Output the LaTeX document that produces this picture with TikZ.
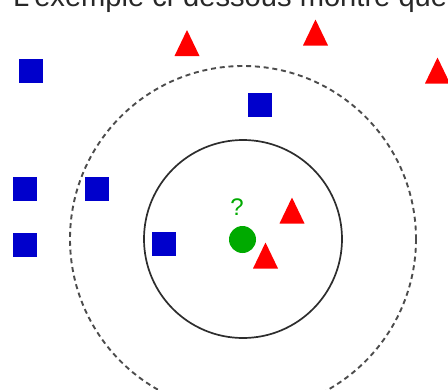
\documentclass[tikz,border=0pt]{standalone}
\usepackage{fontspec}
\setmainfont{Liberation Sans}
\definecolor{sqblue}{RGB}{0,0,204}
\definecolor{trired}{RGB}{255,0,0}
\definecolor{dotgreen}{RGB}{0,170,0}
\definecolor{textgrey}{RGB}{40,40,40}
\definecolor{ringgrey}{RGB}{45,45,45}
\tikzset{
  sq/.style={fill=sqblue, draw=none, minimum size=24pt, inner sep=0pt},
  tri/.pic={\path[fill=trired] (-12.5,13) -- (0,-13) -- (12.5,13) -- cycle;},
  ring/.style={draw=ringgrey, line width=1.7pt},
  dashring/.style={draw=ringgrey!85, line width=1.9pt, dash pattern=on 5pt off 3.8pt},
}
\begin{document}
\begin{tikzpicture}[x=1pt,y=-1pt]
\useasboundingbox (0,0) rectangle (448,389);
\clip (0,0) rectangle (448,389);
\node[anchor=base west, inner sep=0pt, text=textgrey] (title) at (13,6) {\resizebox{434pt}{!}{L'exemple ci-dessous montre que}};
\coordinate (c) at (243,239);
\draw[dashring] (c) circle[radius=173];
\draw[ring] (c) circle[radius=99];
\node[sq] (s1) at (30.5,71) {};
\node[sq] (s2) at (25,189) {};
\node[sq] (s3) at (97,189) {};
\node[sq] (s4) at (25,244.5) {};
\node[sq] (s5) at (259.5,105) {};
\node[sq] (s6) at (164,244) {};
\pic at (187,43) {tri};
\pic at (315.5,32.5) {tri};
\pic at (437.5,70.5) {tri};
\pic at (292,210.5) {tri};
\pic at (265.5,255.5) {tri};
\node[circle, fill=dotgreen, minimum size=27pt, inner sep=0pt] (q) at (242.5,239.5) {};
\node[text=dotgreen, font=\fontsize{24}{24}\selectfont, inner sep=0pt] (qm) at (237,207) {?};
\end{tikzpicture}
\end{document}
